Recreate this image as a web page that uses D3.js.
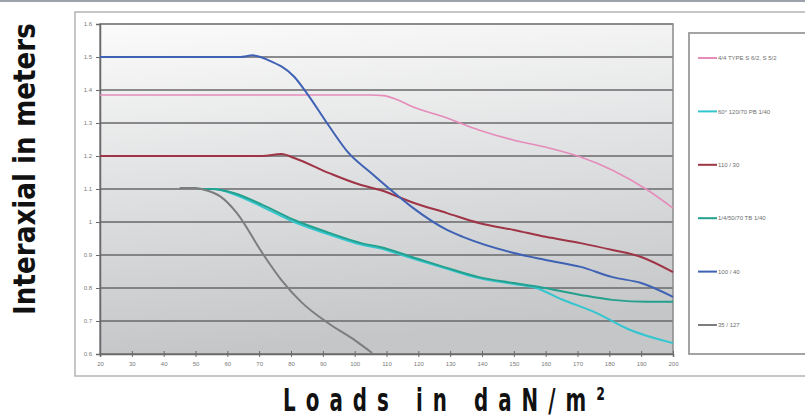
<!DOCTYPE html>
<html>
<head>
<meta charset="utf-8">
<script src="https://cdn.jsdelivr.net/npm/d3@7"></script>
<style>
  html, body { margin: 0; padding: 0; background: #fff; }
  svg { display: block; }
</style>
</head>
<body>
<div id="chart"></div>
<script>
// tick values
const xTicks = [20, 30, 40, 50, 60, 70, 80, 90, 100, 110, 120, 130, 140, 150, 160, 170, 180, 190, 200];
const yTicks = [0.6, 0.7, 0.8, 0.9, 1, 1.1, 1.2, 1.3, 1.4, 1.5, 1.6];

// series names (legend order)
const seriesNames = [
    '4/4 TYPE S 6/2, S 5/2',
    '60° 120/70 PB 1/40',
    '110 / 30',
    '1/4/50/70 TB 1/40',
    '100 / 40',
    '35 / 127'
];

// [load, interaxial]
const pinkValues = [[20, 1.385], [105, 1.385], [109, 1.383], [113, 1.372], [118, 1.35], [129, 1.315],
    [139, 1.279], [150, 1.248], [160, 1.227], [171, 1.197], [181, 1.157], [192, 1.097], [200, 1.042]];
const cyanValues = [[51, 1.1], [56, 1.1], [62, 1.084], [71, 1.046], [81, 1.0], [92, 0.962], [102, 0.932],
    [108, 0.92], [118, 0.89], [129, 0.858], [139, 0.83], [150, 0.812], [157, 0.8], [165, 0.766],
    [176, 0.724], [186, 0.675], [200, 0.633]];
const redValues = [[20, 1.2], [71, 1.2], [77, 1.206], [81, 1.194], [92, 1.148], [102, 1.112], [108, 1.097],
    [118, 1.06], [129, 1.027], [139, 0.997], [150, 0.976], [160, 0.955], [171, 0.936], [181, 0.915],
    [190, 0.894], [200, 0.848]];
const tealValues = [[51, 1.1], [55, 1.1], [62, 1.088], [71, 1.052], [81, 1.006], [92, 0.967], [102, 0.936],
    [108, 0.924], [118, 0.894], [129, 0.861], [139, 0.833], [150, 0.815], [158, 0.803], [171, 0.779],
    [181, 0.764], [192, 0.758], [200, 0.758]];
const blueValues = [[20, 1.5], [64, 1.5], [68, 1.505], [73, 1.49], [81, 1.44], [85, 1.39], [92, 1.29],
    [98, 1.21], [105, 1.15], [111, 1.1], [118, 1.045], [129, 0.976], [134, 0.955], [150, 0.906],
    [160, 0.885], [171, 0.864], [181, 0.833], [190, 0.815], [200, 0.773]];
const grayValues = [[45, 1.103], [50, 1.103], [53, 1.097], [58, 1.076], [63, 1.027], [71, 0.906],
    [77, 0.824], [83.5, 0.755], [91.6, 0.694], [100, 0.642], [105.5, 0.603]];

const seriesValues = [pinkValues, cyanValues, redValues, tealValues, blueValues, grayValues];
const seriesColors = ['#e58cba', '#33c6cf', '#9e3446', '#23a08e', '#3f62b4', '#7d7d80'];

const width = 805;
const height = 417;
const plot = {left: 100, top: 24, right: 673, bottom: 354};
const titleFont = '"DejaVu Sans", "Liberation Sans", sans-serif';

const svg = d3.select('#chart')
  .append('svg')
    .attr('width', width)
    .attr('height', height);

const defs = svg.append('defs');
const grad = defs.append('linearGradient')
    .attr('id', 'plotBg')
    .attr('x1', 0).attr('y1', 0).attr('x2', 0.15).attr('y2', 1);
grad.append('stop').attr('offset', '0%').attr('stop-color', '#fbfbfb');
grad.append('stop').attr('offset', '100%').attr('stop-color', '#c4c6c8');

// top band and outer frame
svg.append('rect')
    .attr('x', 0).attr('y', 0)
    .attr('width', width).attr('height', 2)
    .attr('fill', '#9ca1aa');

svg.append('rect')
    .attr('x', 75).attr('y', 12)
    .attr('width', 740).attr('height', 364)
    .attr('fill', 'none')
    .attr('stroke', '#b4b4b4')
    .attr('stroke-width', 1.5);

const xScale = d3.scaleLinear()
    .domain([20, 200])
    .range([plot.left, plot.right]);

const yScale = d3.scaleLinear()
    .domain([0.6, 1.6])
    .range([plot.bottom, plot.top]);

// plot background
svg.append('rect')
    .attr('x', plot.left).attr('y', plot.top)
    .attr('width', plot.right - plot.left)
    .attr('height', plot.bottom - plot.top)
    .attr('fill', 'url(#plotBg)');

// gridlines
svg.append('g')
    .classed('grid', true)
  .selectAll('line')
    .data(yTicks)
  .enter()
  .append('line')
    .attr('x1', plot.left)
    .attr('x2', plot.right)
    .attr('y1', d => yScale(d))
    .attr('y2', d => yScale(d))
    .attr('stroke', '#69696b')
    .attr('stroke-width', 1.5);

// plot border
svg.append('rect')
    .attr('x', plot.left).attr('y', plot.top)
    .attr('width', plot.right - plot.left)
    .attr('height', plot.bottom - plot.top)
    .attr('fill', 'none')
    .attr('stroke', '#8a8a8c')
    .attr('stroke-width', 1.5);

// axes
const xAxis = d3.axisBottom(xScale)
    .tickValues(xTicks)
    .tickSize(3)
    .tickPadding(5)
    .tickFormat(d3.format('d'));

const yAxis = d3.axisLeft(yScale)
    .tickValues(yTicks)
    .tickSize(4)
    .tickPadding(4)
    .tickFormat(d => String(+d.toFixed(1)));

const xg = svg.append('g')
    .attr('transform', `translate(0,${plot.bottom})`)
    .call(xAxis);
xg.selectAll('.tick line').attr('y1', -3);

const yg = svg.append('g')
    .attr('transform', `translate(${plot.left},0)`)
    .call(yAxis);

[xg, yg].forEach(g => {
    g.select('.domain').attr('stroke', '#69696b').attr('stroke-width', 1.5);
    g.selectAll('.tick line').attr('stroke', '#69696b');
    g.selectAll('.tick text')
        .attr('fill', '#7a7a7a')
        .style('font-family', 'Arial, "Liberation Sans", sans-serif')
        .style('font-size', '6px');
});

// series lines
const line = d3.line()
    .x(d => xScale(d[0]))
    .y(d => yScale(d[1]))
    .curve(d3.curveMonotoneX);

svg.append('g')
    .classed('lines', true)
  .selectAll('path')
    .data(seriesValues)
  .enter()
  .append('path')
    .attr('d', line)
    .attr('fill', 'none')
    .attr('stroke', (d, i) => seriesColors[i])
    .attr('stroke-width', (d, i) => i === 0 ? 1.6 : 2)
    .attr('stroke-linejoin', 'round');

// legend
const legend = svg.append('g').classed('legend', true);
legend.append('rect')
    .attr('x', 689).attr('y', 33)
    .attr('width', 130).attr('height', 321)
    .attr('fill', '#fff')
    .attr('stroke', '#9a9a9a')
    .attr('stroke-width', 1.8);

const legendY = d3.scalePoint()
    .domain(seriesNames)
    .range([58, 325]);

const items = legend.selectAll('.item')
    .data(seriesNames)
  .enter()
  .append('g')
    .classed('item', true)
    .attr('transform', d => `translate(698,${legendY(d)})`);

items.append('line')
    .attr('x1', 0).attr('x2', 19)
    .attr('stroke', (d, i) => seriesColors[i])
    .attr('stroke-width', 2);

items.append('text')
    .attr('x', 20)
    .attr('dy', '0.35em')
    .attr('fill', '#6e6e6e')
    .style('font-family', 'Arial, "Liberation Sans", sans-serif')
    .style('font-size', '6px')
    .text(d => d);

// axis titles (condensed by scaling the glyphs to fit)
const yTitle = svg.append('text')
    .attr('fill', '#111')
    .style('font-family', titleFont)
    .style('font-weight', 'bold')
    .style('font-size', '31px')
    .text('Interaxial in meters');
const yTitleLength = yTitle.node().getComputedTextLength();
yTitle.attr('transform', `translate(35,315) rotate(-90) scale(${292 / yTitleLength},1)`);

svg.append('text')
    .attr('transform', 'translate(283,411) scale(0.62,1)')
    .attr('textLength', 322 / 0.62)
    .attr('lengthAdjust', 'spacing')
    .attr('fill', '#111')
    .style('font-family', titleFont)
    .style('font-weight', 'bold')
    .style('font-size', '32px')
    .text('Loads in daN/m²');
</script>
</body>
</html>
